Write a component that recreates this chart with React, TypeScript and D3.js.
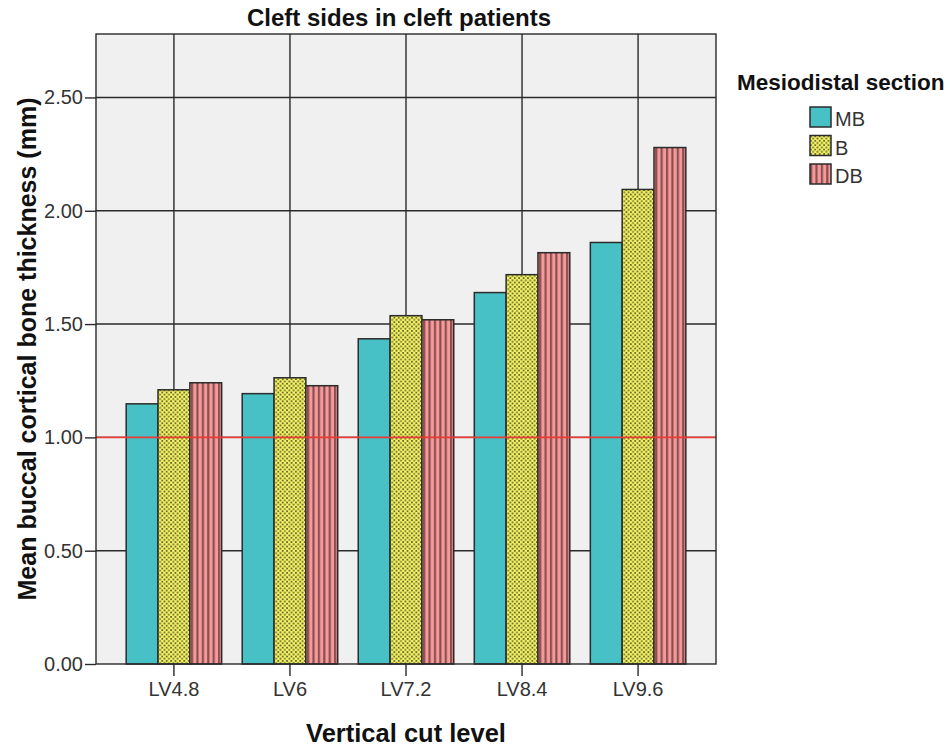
import * as d3 from 'd3';
import { useEffect, useRef } from 'react';

const categories = ['LV4.8', 'LV6', 'LV7.2', 'LV8.4', 'LV9.6'];
const sections = ['MB', 'B', 'DB'];
const mbValues = [1.148, 1.193, 1.435, 1.639, 1.86];
const bValues = [1.21, 1.263, 1.537, 1.718, 2.094];
const dbValues = [1.241, 1.228, 1.519, 1.815, 2.279];
const yTicks = [0, 0.5, 1, 1.5, 2, 2.5];
const referenceValue = 1.0;

const fills: Record<string, string> = { MB: '#48c1c6', B: 'url(#dots)', DB: 'url(#stripes)' };

const drawChart = (container: HTMLElement) => {
  const width = 950;
  const height = 747;
  const left = 96;
  const right = 716;
  const top = 34;
  const bottom = 664;
  const font = '"Liberation Sans", Arial, sans-serif';

  const values: Record<string, number[]> = { MB: mbValues, B: bValues, DB: dbValues };

  const x = d3.scaleBand().domain(categories).range([left, right]).paddingInner(0.177).paddingOuter(0.26);
  const xSub = d3.scaleBand().domain(sections).range([0, x.bandwidth()]);
  const y = d3.scaleLinear().domain([0, 2.78]).range([bottom, top]);

  const svg = d3.select(container).append('svg')
    .attr('width', width)
    .attr('height', height)
    .attr('viewBox', `0 0 ${width} ${height}`)
    .style('position', 'absolute')
    .style('left', '0px')
    .style('top', '0px')
    .style('background', '#ffffff');

  const defs = svg.append('defs');
  const dots = defs.append('pattern')
    .attr('id', 'dots')
    .attr('patternUnits', 'userSpaceOnUse')
    .attr('width', 4.4)
    .attr('height', 4.4);
  dots.append('rect').attr('width', 4.4).attr('height', 4.4).attr('fill', '#f6f562');
  dots.append('rect').attr('x', 0).attr('y', 0).attr('width', 1.8).attr('height', 1.8).attr('fill', '#6a6a35');
  dots.append('rect').attr('x', 2.2).attr('y', 2.2).attr('width', 1.8).attr('height', 1.8).attr('fill', '#6a6a35');

  const stripes = defs.append('pattern')
    .attr('id', 'stripes')
    .attr('patternUnits', 'userSpaceOnUse')
    .attr('width', 5.4)
    .attr('height', 10);
  stripes.append('rect').attr('width', 5.4).attr('height', 10).attr('fill', '#f6999b');
  stripes.append('rect').attr('x', 0).attr('width', 2.2).attr('height', 10).attr('fill', '#8a5050');

  // plot background
  svg.append('rect')
    .attr('x', left).attr('y', top)
    .attr('width', right - left).attr('height', bottom - top)
    .attr('fill', '#f0f0f0');

  // grid
  svg.append('g')
    .selectAll('line')
    .data(yTicks.filter(t => t > 0))
    .join('line')
    .attr('x1', left).attr('x2', right)
    .attr('y1', d => y(d)).attr('y2', d => y(d))
    .attr('stroke', '#2a2a2a').attr('stroke-width', 1.4);

  svg.append('g')
    .selectAll('line')
    .data(categories)
    .join('line')
    .attr('x1', d => x(d)! + x.bandwidth() / 2).attr('x2', d => x(d)! + x.bandwidth() / 2)
    .attr('y1', top).attr('y2', bottom)
    .attr('stroke', '#2a2a2a').attr('stroke-width', 1.4);

  // bars
  const groups = svg.append('g')
    .selectAll('g')
    .data(categories)
    .join('g')
    .attr('transform', d => `translate(${x(d)},0)`);

  groups.selectAll('rect')
    .data((_, i) => sections.map(s => ({ key: s, value: values[s][i] })))
    .join('rect')
    .attr('x', d => xSub(d.key)!)
    .attr('y', d => y(d.value))
    .attr('width', xSub.bandwidth())
    .attr('height', d => y(0) - y(d.value))
    .attr('fill', d => fills[d.key])
    .attr('stroke', '#2b2b2b')
    .attr('stroke-width', 1.5);

  // reference line
  svg.append('line')
    .attr('x1', left).attr('x2', right)
    .attr('y1', y(referenceValue)).attr('y2', y(referenceValue))
    .attr('stroke', '#e63c36').attr('stroke-width', 1.6);

  // frame
  svg.append('rect')
    .attr('x', left).attr('y', top)
    .attr('width', right - left).attr('height', bottom - top)
    .attr('fill', 'none')
    .attr('stroke', '#2a2a2a').attr('stroke-width', 1.4);

  // axes
  const yAxis = d3.axisLeft(y).tickValues(yTicks).tickFormat(d3.format('.2f')).tickSize(11).tickSizeOuter(0).tickPadding(2);
  const yg = svg.append('g').attr('transform', `translate(${left},0)`).call(yAxis);
  yg.select('.domain').remove();
  yg.selectAll('line').attr('stroke', '#2a2a2a').attr('stroke-width', 1.4);
  yg.selectAll('text').attr('font-family', font).attr('font-size', 20).attr('fill', '#333');

  const xAxis = d3.axisBottom(x).tickSize(12).tickSizeOuter(0).tickPadding(6);
  const xg = svg.append('g').attr('transform', `translate(0,${bottom})`).call(xAxis);
  xg.select('.domain').remove();
  xg.selectAll('line').attr('stroke', '#2a2a2a').attr('stroke-width', 1.4);
  xg.selectAll('text').attr('font-family', font).attr('font-size', 20).attr('fill', '#333');

  // titles
  svg.append('text')
    .attr('x', 399).attr('y', 26)
    .attr('text-anchor', 'middle')
    .attr('font-family', font).attr('font-weight', 'bold').attr('font-size', 24)
    .attr('fill', '#111')
    .text('Cleft sides in cleft patients');

  svg.append('text')
    .attr('x', (left + right) / 2).attr('y', 742)
    .attr('text-anchor', 'middle')
    .attr('font-family', font).attr('font-weight', 'bold').attr('font-size', 25.5)
    .attr('fill', '#111')
    .text('Vertical cut level');

  svg.append('text')
    .attr('transform', `translate(36,${(top + bottom) / 2}) rotate(-90)`)
    .attr('text-anchor', 'middle')
    .attr('font-family', font).attr('font-weight', 'bold').attr('font-size', 25)
    .attr('fill', '#111')
    .text('Mean buccal cortical bone thickness (mm)');

  // legend
  svg.append('text')
    .attr('x', 737).attr('y', 90)
    .attr('font-family', font).attr('font-weight', 'bold').attr('font-size', 22.5)
    .attr('fill', '#111')
    .text('Mesiodistal section');

  const legend = svg.append('g')
    .selectAll('g')
    .data(sections)
    .join('g')
    .attr('transform', (_, i) => `translate(810,${107 + i * 28.5})`);

  legend.append('rect')
    .attr('width', 21).attr('height', 20)
    .attr('fill', d => fills[d])
    .attr('stroke', '#2b2b2b').attr('stroke-width', 1.5);

  legend.append('text')
    .attr('x', 25).attr('y', 19)
    .attr('font-family', font).attr('font-size', 20)
    .attr('fill', '#333')
    .text(d => d);

  return svg.node();
};

export default function App() {
  const domRef = useRef<HTMLDivElement>(null);
  useEffect(() => {
    if (domRef.current) {
      drawChart(domRef.current);
    }
    return () => {
      d3.select(domRef.current).selectAll('svg').remove();
    };
  }, [domRef]);
  return <div ref={domRef}></div>;
}
